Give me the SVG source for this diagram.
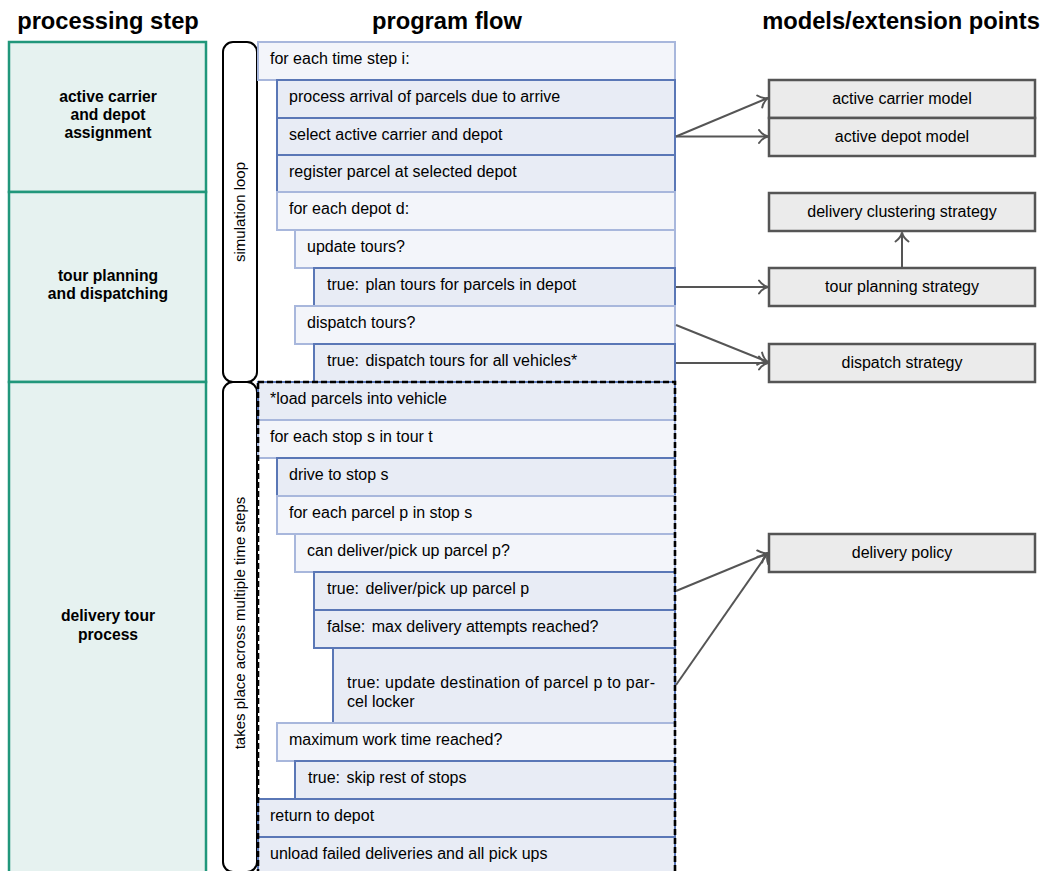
<svg xmlns="http://www.w3.org/2000/svg" width="1045" height="871" viewBox="0 0 1045 871">
  <style>
    text { font-family: "Liberation Sans", Arial, sans-serif; fill: #000; }
    .hdr { font-size: 23.7px; font-weight: bold; text-anchor: middle; }
    .step rect { fill: #e6f2f0; stroke: #21977b; stroke-width: 2.5; }
    .step text { font-size: 15.7px; font-weight: bold; text-anchor: middle; }
    .brk { fill: #fff; stroke: #000; stroke-width: 2; }
    .brk-t { font-size: 15px; text-anchor: middle; }
    .lt rect { fill: #f3f5fa; stroke: #a8b7dc; stroke-width: 2; }
    .dk rect { fill: #e8ecf5; stroke: #5a77b6; stroke-width: 2; }
    .flow text { font-size: 16px; }
    .ext rect { fill: #ebebeb; stroke: #555; stroke-width: 2.5; }
    .ext text { font-size: 16px; text-anchor: middle; }
    .conn line { stroke: #555; stroke-width: 2; marker-end: url(#arr); }
  </style>
  <defs>
    <marker id="arr" viewBox="0 0 12 16" refX="10.5" refY="8" markerWidth="12" markerHeight="16" markerUnits="userSpaceOnUse" orient="auto">
      <path d="M1.5,1.5 C4,5 8,7.4 10.5,8 C8,8.6 4,11 1.5,14.5" fill="none" stroke="#555" stroke-width="2" stroke-linecap="round"/>
    </marker>
  </defs>

  <!-- column headings -->
  <text class="hdr" x="108" y="29">processing step</text>
  <text class="hdr" x="447" y="29">program flow</text>
  <text class="hdr" x="901" y="29">models/extension points</text>

  <!-- processing steps -->
  <g id="step-assignment" class="step">
    <rect x="9" y="42" width="197" height="150"/>
    <text x="108" y="102">active carrier</text>
    <text x="108" y="120">and depot</text>
    <text x="108" y="138">assignment</text>
  </g>
  <g id="step-planning" class="step">
    <rect x="9" y="192" width="197" height="190"/>
    <text x="108" y="281">tour planning</text>
    <text x="108" y="299">and dispatching</text>
  </g>
  <g id="step-delivery" class="step">
    <rect x="9" y="382" width="197" height="500"/>
    <text x="108" y="621">delivery tour</text>
    <text x="108" y="640">process</text>
  </g>

  <!-- loop brackets -->
  <g id="bracket-simulation">
    <rect class="brk" x="223" y="42" width="34" height="340" rx="10"/>
    <text class="brk-t" transform="translate(245,212) rotate(-90)">simulation loop</text>
  </g>
  <g id="bracket-multistep">
    <rect class="brk" x="223" y="382" width="34" height="490" rx="10"/>
    <text class="brk-t" transform="translate(245,623) rotate(-90)">takes place across multiple time steps</text>
  </g>

  <!-- program flow -->
  <g class="flow">
    <g id="f01" class="lt"><rect x="258" y="42" width="417" height="38"/><text x="270" y="64">for each time step i:</text></g>
    <g id="f02" class="dk"><rect x="277" y="80" width="398" height="38"/><text x="289" y="102">process arrival of parcels due to arrive</text></g>
    <g id="f03" class="dk"><rect x="277" y="118" width="398" height="37"/><text x="289" y="140">select active carrier and depot</text></g>
    <g id="f04" class="dk"><rect x="277" y="155" width="398" height="37"/><text x="289" y="177">register parcel at selected depot</text></g>
    <g id="f05" class="lt"><rect x="277" y="192" width="398" height="38"/><text x="289" y="214">for each depot d:</text></g>
    <g id="f06" class="lt"><rect x="295" y="230" width="380" height="38"/><text x="307" y="252">update tours?</text></g>
    <g id="f07" class="dk"><rect x="314" y="268" width="361" height="38"/><text x="327" y="290">true:<tspan dx="2"> plan tours for parcels in depot</tspan></text></g>
    <g id="f08" class="lt"><rect x="295" y="306" width="380" height="38"/><text x="307" y="328">dispatch tours?</text></g>
    <g id="f09" class="dk"><rect x="314" y="344" width="361" height="38"/><text x="327" y="366">true:<tspan dx="2"> dispatch tours for all vehicles*</tspan></text></g>
    <g id="f10" class="dk"><rect x="258" y="382" width="417" height="38"/><text x="270" y="404">*load parcels into vehicle</text></g>
    <g id="f11" class="lt"><rect x="258" y="420" width="417" height="38"/><text x="270" y="442">for each stop s in tour t</text></g>
    <g id="f12" class="dk"><rect x="277" y="458" width="398" height="38"/><text x="289" y="480">drive to stop s</text></g>
    <g id="f13" class="lt"><rect x="277" y="496" width="398" height="38"/><text x="289" y="518">for each parcel p in stop s</text></g>
    <g id="f14" class="lt"><rect x="295" y="534" width="380" height="38"/><text x="307" y="556">can deliver/pick up parcel p?</text></g>
    <g id="f15" class="dk"><rect x="314" y="572" width="361" height="38"/><text x="327" y="594">true:<tspan dx="2"> deliver/pick up parcel p</tspan></text></g>
    <g id="f16" class="dk"><rect x="314" y="610" width="361" height="38"/><text x="327" y="632">false:<tspan dx="2"> max delivery attempts reached?</tspan></text></g>
    <g id="f17" class="dk"><rect x="333" y="648" width="342" height="75"/>
      <text x="347" y="688" textLength="308" lengthAdjust="spacing">true:  update destination of parcel p to par-</text>
      <text x="347" y="707">cel locker</text></g>
    <g id="f18" class="lt"><rect x="277" y="723" width="398" height="38"/><text x="289" y="745">maximum work time reached?</text></g>
    <g id="f19" class="dk"><rect x="295" y="761" width="380" height="38"/><text x="308" y="783">true:<tspan dx="2"> skip rest of stops</tspan></text></g>
    <g id="f20" class="dk"><rect x="258" y="799" width="417" height="38"/><text x="270" y="821">return to depot</text></g>
    <g id="f21" class="dk"><rect x="258" y="837" width="417" height="38"/><text x="270" y="859">unload failed deliveries and all pick ups</text></g>
    <!-- dashed outline of the tour process -->
    <rect x="258" y="382" width="417" height="500" fill="none" stroke="#000" stroke-width="2.6" stroke-dasharray="6,3"/>
  </g>

  <!-- models / extension points -->
  <g id="m-carrier" class="ext"><rect x="769" y="80" width="266" height="38"/><text x="902" y="104">active carrier model</text></g>
  <g id="m-depot" class="ext"><rect x="769" y="118" width="266" height="38"/><text x="902" y="142">active depot model</text></g>
  <g id="m-clustering" class="ext"><rect x="769" y="193" width="266" height="38"/><text x="902" y="217">delivery clustering strategy</text></g>
  <g id="m-tour" class="ext"><rect x="769" y="268" width="266" height="38"/><text x="902" y="292">tour planning strategy</text></g>
  <g id="m-dispatch" class="ext"><rect x="769" y="344" width="266" height="38"/><text x="902" y="368">dispatch strategy</text></g>
  <g id="m-policy" class="ext"><rect x="769" y="534" width="266" height="38"/><text x="902" y="558">delivery policy</text></g>

  <!-- connectors -->
  <g class="conn">
    <line x1="676" y1="136.5" x2="768" y2="98"/>
    <line x1="676" y1="136.5" x2="768" y2="136.5"/>
    <line x1="676" y1="287" x2="768" y2="287"/>
    <line x1="902" y1="267" x2="902" y2="232.5"/>
    <line x1="676" y1="325" x2="768" y2="362"/>
    <line x1="676" y1="363" x2="768" y2="363"/>
    <line x1="676" y1="591" x2="768" y2="553"/>
    <line x1="676" y1="685" x2="768" y2="553"/>
  </g>
</svg>
